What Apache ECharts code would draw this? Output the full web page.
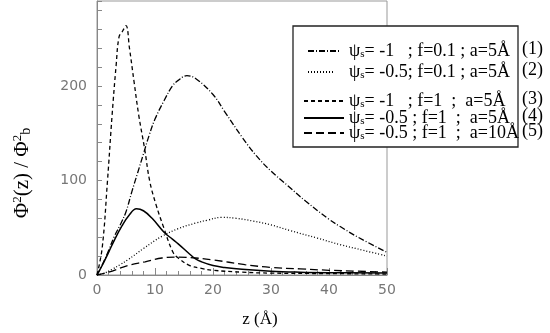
<!DOCTYPE html>
<html>
<head>
<meta charset="utf-8">
<script src="https://cdn.jsdelivr.net/npm/echarts@6/dist/echarts.min.js"></script>
<style>
  html, body { margin: 0; padding: 0; background: #fff; }
  #chart { width: 550px; height: 333px; }
</style>
</head>
<body>
<div id="chart"></div>
<script>
// curve (1): psi=-1, f=0.1, a=5
const z1 = [0, 1, 2, 3, 4, 5, 6, 7, 8, 9, 10, 11.6, 13, 14, 15.5, 17, 20, 22, 25, 27.5, 30, 33, 36, 40, 42, 45, 50];
const v1 = [0, 12, 26, 41, 53, 67, 88, 108, 128, 148, 165, 185, 200, 206, 211, 208, 191, 173, 146, 126, 110, 94, 78, 59, 51, 40, 24];
// curve (2): psi=-0.5, f=0.1, a=5
const z2 = [0, 1.3, 2.6, 4, 5.3, 8, 11.2, 14, 17, 19, 21.5, 24, 27, 30, 33.3, 38, 42, 46, 50];
const v2 = [0, 2, 6, 11, 16, 28, 41, 49, 55, 58, 61, 60, 57, 53, 47, 39, 32, 26, 20];
// curve (3): psi=-1, f=1, a=5
const z3 = [0, 0.9, 1.8, 2.6, 3.3, 3.8, 4.4, 5, 5.6, 6.4, 7.2, 8.2, 9.1, 10.2, 11.4, 13.1, 14, 16, 18, 20, 25, 30, 40, 50];
const v3 = [0, 29, 99, 169, 222, 252, 258, 264, 240, 204, 169, 134, 99, 74, 52, 24, 18, 10, 7, 5, 3, 2, 1.5, 1];
// curve (4): psi=-0.5, f=1, a=5
const z4 = [0, 0.8, 2, 3, 4.3, 5.5, 6.8, 8, 9.5, 11.6, 13, 14, 16, 17, 18, 20, 22, 25, 30, 35, 40, 50];
const v4 = [0, 9, 24, 37, 52, 63, 70, 68, 60, 45, 38, 33, 22, 17, 14, 10, 8, 6, 4, 3, 2.5, 2];
// curve (5): psi=-0.5, f=1, a=10
const z5 = [0, 2, 5.3, 8.3, 11.2, 14, 17, 20, 25.5, 30, 35, 40, 45, 50];
const v5 = [0, 3, 10, 14, 18, 19, 18, 16, 11, 8, 6.5, 5, 4, 3];

const names = [
  'ψs= -1   ; f=0.1 ; a=5Å',
  'ψs= -0.5; f=0.1 ; a=5Å',
  'ψs= -1   ; f=1  ;  a=5Å',
  'ψs= -0.5 ; f=1  ;  a=5Å',
  'ψs= -0.5 ; f=1  ;  a=10Å'
];
const numbers = ['(1)', '(2)', '(3)', '(4)', '(5)'];
const dashes = [[6, 2, 1, 2], [1, 2], [4, 3], 'solid', [8, 4]];
const rowY = [49, 70, 99, 116, 131];
const iconLeft = [307, 307, 303, 303, 303];
const iconW = [31, 25, 40, 40, 40];

const zs = [z1, z2, z3, z4, z5];
const vs = [v1, v2, v3, v4, v5];

const serif = 'Liberation Serif';
const axisFont = 'DejaVu Sans';

const series = names.map((name, i) => ({
  name: name,
  type: 'line',
  smooth: 0.4,
  showSymbol: false,
  symbol: 'none',
  data: zs[i].map((z, k) => [z, vs[i][k]]),
  lineStyle: { color: '#000', width: i === 3 ? 1.5 : 1.3, type: dashes[i] },
  itemStyle: { color: '#000' }
}));

// each legend row is placed by hand so the uneven row spacing matches
const legends = names.map((name, i) => {
  const gap = 343 - iconLeft[i] - iconW[i];
  return {
    data: [name],
    left: iconLeft[i] - 5,
    top: rowY[i] - 12,
    itemWidth: iconW[i],
    itemHeight: 14,
    selectedMode: false,
    itemStyle: { color: 'rgba(0,0,0,0)', borderWidth: 0, opacity: 0 },
    formatter: (n) => (gap > 0 ? '{g|}' : '') + '{p|ψ}{s|s}{t|' + n.slice(2) + '}',
    textStyle: {
      color: '#000',
      fontFamily: serif,
      fontSize: 18,
      rich: {
        g: { width: gap },
        p: { fontFamily: serif, fontSize: 18, color: '#000' },
        s: { fontFamily: serif, fontSize: 11, color: '#000', verticalAlign: 'bottom', padding: [7, 0, 0, 0] },
        t: { fontFamily: serif, fontSize: 18, color: '#000' }
      }
    }
  };
});

const chart = echarts.init(document.getElementById('chart'));
chart.setOption({
  animation: false,
  backgroundColor: '#fff',
  grid: {
    left: 97, right: 163, top: 1, bottom: 57,
    show: true, borderColor: '#999', borderWidth: 1
  },
  legend: legends,
  graphic: [
    {
      type: 'rect', z: 3,
      shape: { x: 293, y: 26, width: 225, height: 121 },
      style: { fill: '#fff', stroke: '#222', lineWidth: 1.3 }
    }
  ].concat(numbers.map((t, i) => ({
    type: 'text', z: 5,
    x: 522, y: rowY[i],
    style: { text: t, fontFamily: serif, fontSize: 18, fill: '#000', verticalAlign: 'middle' }
  }))),
  xAxis: {
    type: 'value', min: 0, max: 50, interval: 10,
    name: 'z (Å)', nameLocation: 'middle', nameGap: 36,
    nameTextStyle: { fontFamily: serif, fontSize: 17, color: '#000', padding: [0, 0, 0, 36] },
    axisLine: { lineStyle: { color: '#888' } },
    axisTick: { inside: true, length: 7, lineStyle: { color: '#888' } },
    minorTick: { show: true, splitNumber: 5, length: 4, lineStyle: { color: '#888' } },
    axisLabel: { fontFamily: axisFont, fontSize: 14, color: '#777', margin: 8 },
    splitLine: { show: false }
  },
  yAxis: {
    type: 'value', min: 0, max: 290, interval: 20,
    name: '{f|Φ}{sup|2}{f|(z) / Φ}{sup|2}{sub|b}',
    nameLocation: 'middle', nameGap: 64, nameRotate: 90,
    nameTextStyle: {
      padding: [0, 70, 0, 0],
      rich: {
        f: { fontFamily: serif, fontSize: 21, color: '#000' },
        sup: { fontFamily: serif, fontSize: 13, color: '#000', verticalAlign: 'top', padding: [0, 0, 8, 0] },
        sub: { fontFamily: serif, fontSize: 14, color: '#000', verticalAlign: 'bottom', padding: [8, 0, 0, 0] }
      }
    },
    axisLine: { show: true, lineStyle: { color: '#888' } },
    axisTick: { inside: true, length: 5, lineStyle: { color: '#888' } },
    axisLabel: {
      fontFamily: axisFont, fontSize: 14, color: '#777', margin: 10,
      formatter: (v) => (v % 100 === 0 ? String(v) : '')
    },
    splitLine: { show: false }
  },
  series: series
});
</script>
</body>
</html>
